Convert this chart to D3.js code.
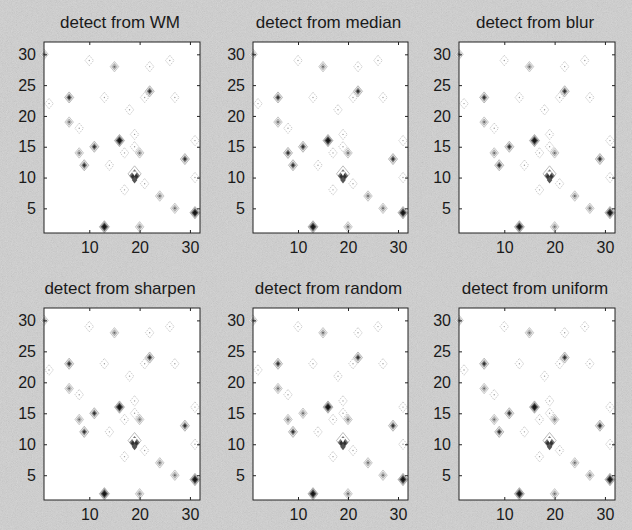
<!DOCTYPE html>
<html>
<head>
<meta charset="utf-8">
<script src="https://cdn.jsdelivr.net/npm/d3@7/dist/d3.min.js"></script>
<style>
  html, body { margin: 0; padding: 0; background: #c4c4c4; }
  svg { display: block; }
  text { font-family: "Liberation Sans", Arial, sans-serif; fill: #1a1a1a; }
</style>
</head>
<body>
<script>
// ---------- data ----------
const titles = ["detect from WM", "detect from median", "detect from blur",
                "detect from sharpen", "detect from random", "detect from uniform"];
const xTicks = [10, 20, 30];
const yTicks = [5, 10, 15, 20, 25, 30];
// detected peak locations (column, row)
const peakX = [1, 10, 15, 22, 26, 22, 6, 13, 21, 27, 2, 18, 6, 8, 19, 31, 16, 11, 19, 8, 17, 20, 29, 9, 14, 19, 31, 21, 17, 24, 27, 31, 13, 20];
const peakY = [30, 29, 28, 28, 29, 24, 23, 23, 23, 23, 22, 21, 19, 18, 17, 16, 16, 15, 15, 14, 14, 14, 13, 12, 12, 10.6, 10, 9, 8, 7, 5, 4.3, 2, 2];
// contour strength per panel (0 = none ... 5 = strongest)
const levelWM      = [2, 1, 2, 1, 1, 3, 3, 1, 1, 1, 1, 1, 2, 1, 1, 1, 4, 3, 1, 2, 1, 2, 3, 3, 1, 5, 1, 1, 1, 2, 2, 4, 4, 2];
const levelMedian  = [2, 1, 2, 1, 1, 3, 3, 1, 1, 1, 1, 1, 2, 1, 1, 1, 4, 3, 1, 3, 1, 2, 3, 3, 1, 5, 1, 1, 1, 2, 2, 4, 4, 2];
const levelBlur    = [2, 1, 2, 1, 1, 3, 3, 1, 1, 1, 1, 1, 2, 1, 1, 1, 4, 3, 1, 2, 1, 2, 3, 3, 1, 5, 1, 1, 1, 2, 2, 4, 4, 2];
const levelSharpen = [2, 1, 2, 1, 1, 3, 3, 1, 1, 1, 1, 1, 2, 1, 1, 1, 4, 3, 1, 2, 1, 2, 3, 3, 1, 5, 1, 1, 1, 2, 2, 4, 4, 2];
const levelRandom  = [2, 1, 2, 1, 1, 3, 3, 1, 1, 1, 1, 1, 2, 1, 1, 1, 4, 2, 1, 2, 1, 2, 3, 3, 1, 5, 1, 1, 1, 2, 2, 4, 4, 2];
const levelUniform = [2, 1, 2, 1, 1, 3, 3, 1, 1, 1, 1, 1, 2, 1, 1, 1, 4, 3, 1, 2, 1, 2, 3, 3, 1, 5, 1, 1, 1, 2, 2, 4, 4, 2];
const levels = [levelWM, levelMedian, levelBlur, levelSharpen, levelRandom, levelUniform];

// ---------- layout ----------
const W = 632, H = 530;
const colX = [[44, 200], [253, 408], [459, 615]];
const rowY = [[42, 233], [308, 500]];

const svg = d3.select("body").append("svg").attr("width", W).attr("height", H);
const defs = svg.append("defs");
const noise = defs.append("filter").attr("id", "noise").attr("x", 0).attr("y", 0).attr("width", "100%").attr("height", "100%");
noise.append("feTurbulence").attr("type", "fractalNoise").attr("baseFrequency", 1.2).attr("numOctaves", 1).attr("seed", 7);
noise.append("feColorMatrix").attr("type", "matrix")
  .attr("values", "0.6 0.4 0 0 0  0.6 0.4 0 0 0  0.6 0.4 0 0 0  0 0 0 0 1");
const soft = defs.append("filter").attr("id", "soft").attr("x", "-50%").attr("y", "-50%").attr("width", "200%").attr("height", "200%");
soft.append("feGaussianBlur").attr("stdDeviation", 0.6);

svg.append("rect").attr("width", W).attr("height", H).attr("fill", "#d2d2d2");
svg.append("rect").attr("width", W).attr("height", H).attr("filter", "url(#noise)").attr("opacity", 0.2);

function diamond(x, y, cx, cy, r) {
  return `M${x(cx)},${y(cy + r)}L${x(cx + r)},${y(cy)}L${x(cx)},${y(cy - r)}L${x(cx - r)},${y(cy)}Z`;
}

titles.forEach((t, i) => {
  const [x0, x1] = colX[i % 3];
  const [y0, y1] = rowY[Math.floor(i / 3)];
  const x = d3.scaleLinear().domain([1, 32]).range([x0, x1]);
  const y = d3.scaleLinear().domain([1, 32]).range([y1, y0]);
  const g = svg.append("g");

  g.append("rect").attr("x", x0).attr("y", y0).attr("width", x1 - x0).attr("height", y1 - y0).attr("fill", "#fff");

  const lv = levels[i];
  const mg = g.append("g").attr("filter", "url(#soft)");
  peakX.forEach((px, k) => {
    const L = lv[k], py = peakY[k];
    if (L <= 0) return;
    if (L === 5) {
      mg.append("path").attr("d", diamond(x, y, px, py, 1.3)).attr("fill", "none").attr("stroke", "#aaa").attr("stroke-width", 0.8);
      mg.append("path").attr("d", diamond(x, y, px, py - 0.3, 1.05)).attr("fill", "#777");
      mg.append("path").attr("d", diamond(x, y, px, py - 0.45, 0.75)).attr("fill", "#333");
      mg.append("path").attr("d", diamond(x, y, px, py - 1.0, 0.55)).attr("fill", "#555");
      mg.append("path").attr("d", `M${x(px - 0.6)},${y(py + 0.4)}L${x(px + 0.5)},${y(py + 0.4)}L${x(px)},${y(py - 0.35)}Z`).attr("fill", "#fff");
      return;
    }
    if (L === 1) {
      mg.append("path").attr("d", diamond(x, y, px, py, 0.85)).attr("fill", "none").attr("stroke", "#c4c4c4").attr("stroke-width", 0.9).attr("stroke-dasharray", "1.5,1");
      mg.append("circle").attr("cx", x(px)).attr("cy", y(py)).attr("r", 0.7).attr("fill", "#999");
    } else if (L === 2) {
      mg.append("path").attr("d", diamond(x, y, px, py, 0.85)).attr("fill", "#f0f0f0").attr("stroke", "#bdbdbd").attr("stroke-width", 0.8);
      mg.append("path").attr("d", diamond(x, y, px, py, 0.5)).attr("fill", "#bbb").attr("stroke", "#999").attr("stroke-width", 0.6);
      mg.append("circle").attr("cx", x(px)).attr("cy", y(py)).attr("r", 1).attr("fill", "#666");
    } else if (L === 3) {
      mg.append("path").attr("d", diamond(x, y, px, py, 0.9)).attr("fill", "#e6e6e6").attr("stroke", "#aaa").attr("stroke-width", 0.8);
      mg.append("path").attr("d", diamond(x, y, px, py, 0.6)).attr("fill", "#888");
      mg.append("path").attr("d", diamond(x, y, px, py, 0.32)).attr("fill", "#333");
    } else {
      mg.append("path").attr("d", diamond(x, y, px, py, 1.0)).attr("fill", "#bbb").attr("stroke", "#999").attr("stroke-width", 0.6);
      mg.append("path").attr("d", diamond(x, y, px, py, 0.72)).attr("fill", "#555");
      mg.append("path").attr("d", diamond(x, y, px, py, 0.45)).attr("fill", "#151515");
    }
  });

  // box with inward ticks on all four sides
  const axStyle = sel => { sel.select(".domain").remove(); sel.selectAll("line").attr("stroke", "#222"); };
  const lbl = s => s.selectAll("text").attr("font-size", 16).attr("fill", "#1a1a1a").attr("font-family", "Liberation Sans, Arial, sans-serif");
  g.append("g").attr("transform", `translate(0,${y1})`)
    .call(d3.axisBottom(x).tickValues(xTicks).tickSize(-3).tickPadding(9))
    .call(axStyle).call(lbl);
  g.append("g").attr("transform", `translate(${x0},0)`)
    .call(d3.axisLeft(y).tickValues(yTicks).tickSize(-3).tickPadding(8))
    .call(axStyle).call(lbl);
  g.append("g").attr("transform", `translate(0,${y0})`)
    .call(d3.axisTop(x).tickValues(xTicks).tickSize(-3).tickFormat(""))
    .call(axStyle);
  g.append("g").attr("transform", `translate(${x1},0)`)
    .call(d3.axisRight(y).tickValues(yTicks).tickSize(-3).tickFormat(""))
    .call(axStyle);
  g.append("rect").attr("x", x0).attr("y", y0).attr("width", x1 - x0).attr("height", y1 - y0)
    .attr("fill", "none").attr("stroke", "#222").attr("stroke-width", 1);

  g.append("text").attr("x", (x0 + x1) / 2 - 2).attr("y", y0 - 14).attr("text-anchor", "middle")
    .attr("font-size", 17).text(t);
});
</script>
</body>
</html>
